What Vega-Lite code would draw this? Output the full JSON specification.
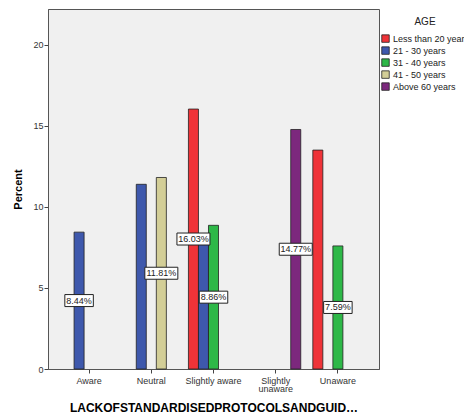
{
  "$schema": "https://vega.github.io/schema/vega-lite/v6.json",
  "autosize": {"type": "none"},
  "width": 331,
  "height": 360,
  "padding": {"left": 48, "top": 9, "right": 85, "bottom": 47},
  "background": "white",
  "config": {
    "font": "Liberation Sans",
    "view": {"fill": "#F0F0F0", "stroke": "#555555", "strokeWidth": 1}
  },
  "data": {
    "values": [
      {"category": "Aware", "age": "21 - 30 years", "value": 8.44, "label": "8.44%"},
      {"category": "Neutral", "age": "21 - 30 years", "value": 11.39, "label": null},
      {"category": "Neutral", "age": "41 - 50 years", "value": 11.81, "label": "11.81%"},
      {"category": "Slightly aware", "age": "Less than 20 years", "value": 16.03, "label": "16.03%"},
      {"category": "Slightly aware", "age": "21 - 30 years", "value": 7.9, "label": null},
      {"category": "Slightly aware", "age": "31 - 40 years", "value": 8.86, "label": "8.86%"},
      {"category": "Slightly unaware", "age": "Above 60 years", "value": 14.77, "label": "14.77%"},
      {"category": "Unaware", "age": "Less than 20 years", "value": 13.5, "label": null},
      {"category": "Unaware", "age": "31 - 40 years", "value": 7.59, "label": "7.59%"}
    ]
  },
  "encoding": {
    "x": {
      "field": "category",
      "type": "nominal",
      "sort": ["Aware", "Neutral", "Slightly aware", "Slightly unaware", "Unaware"],
      "scale": {"paddingInner": 0.194, "paddingOuter": 0.258},
      "axis": {
        "title": "LACKOFSTANDARDISEDPROTOCOLSANDGUID…",
        "titleFont": "Liberation Sans",
        "titleFontSize": 12,
        "titleFontWeight": "bold",
        "titleColor": "#000000",
        "titlePadding": 9,
        "labelAngle": 0,
        "labelFontSize": 9,
        "labelColor": "#333333",
        "labelPadding": 3,
        "labelLineHeight": 8.5,
        "labelExpr": "datum.label == 'Slightly unaware' ? ['Slightly', 'unaware'] : datum.label",
        "tickColor": "#444444",
        "tickSize": 4,
        "domainColor": "#555555",
        "grid": false
      }
    },
    "xOffset": {
      "field": "age",
      "type": "nominal",
      "sort": ["Less than 20 years", "21 - 30 years", "31 - 40 years", "41 - 50 years", "Above 60 years"],
      "scale": {
        "domain": ["Less than 20 years", "21 - 30 years", "31 - 40 years", "41 - 50 years", "Above 60 years"],
        "paddingInner": 0,
        "paddingOuter": 0
      }
    }
  },
  "layer": [
    {
      "mark": {"type": "bar", "stroke": "#222222", "strokeWidth": 0.8},
      "encoding": {
        "y": {
          "field": "value",
          "type": "quantitative",
          "scale": {"domain": [0, 22.2], "nice": false},
          "axis": {
            "title": "Percent",
            "titleFontSize": 11,
            "titleFontWeight": "bold",
            "titleColor": "#000000",
            "titlePadding": 9,
            "values": [0, 5, 10, 15, 20],
            "labelFontSize": 9,
            "labelColor": "#333333",
            "labelPadding": 1,
            "tickColor": "#444444",
            "tickSize": 4,
            "domainColor": "#555555",
            "grid": false
          }
        },
        "color": {
          "field": "age",
          "type": "nominal",
          "scale": {
            "domain": ["Less than 20 years", "21 - 30 years", "31 - 40 years", "41 - 50 years", "Above 60 years"],
            "range": ["#EF3338", "#3E58AC", "#2EB848", "#D3CE97", "#7C287D"]
          },
          "legend": {
            "title": "AGE",
            "orient": "none",
            "legendX": 333,
            "legendY": 8,
            "titleFontSize": 10,
            "titleFontWeight": "normal",
            "titleColor": "#222222",
            "titleAnchor": "middle",
            "titleAlign": "center",
            "titlePadding": 6,
            "labelFontSize": 9,
            "labelColor": "#222222",
            "labelLimit": 200,
            "labelOffset": 3,
            "symbolType": "square",
            "symbolSize": 56,
            "symbolStrokeColor": "#222222",
            "symbolStrokeWidth": 0.8,
            "symbolOpacity": 1,
            "rowPadding": 0,
            "clipHeight": 11.2
          }
        }
      }
    },
    {
      "transform": [
        {"filter": "datum.label != null"},
        {"calculate": "datum.value / 2", "as": "mid"}
      ],
      "mark": {"type": "point", "filled": true, "fill": "white", "stroke": "#222222", "strokeWidth": 1, "opacity": 1},
      "encoding": {
        "y": {"field": "mid", "type": "quantitative"},
        "shape": {
          "condition": {"test": "length(datum.label) > 5", "value": "M-1.1,-0.4H1.1V0.4H-1.1Z"},
          "value": "M-0.95,-0.4H0.95V0.4H-0.95Z"
        },
        "size": {"value": 900}
      }
    },
    {
      "transform": [
        {"filter": "datum.label != null"},
        {"calculate": "datum.value / 2", "as": "mid"}
      ],
      "mark": {"type": "text", "fontSize": 9, "color": "#222222", "baseline": "middle", "align": "center"},
      "encoding": {
        "y": {"field": "mid", "type": "quantitative"},
        "text": {"field": "label"}
      }
    }
  ]
}
